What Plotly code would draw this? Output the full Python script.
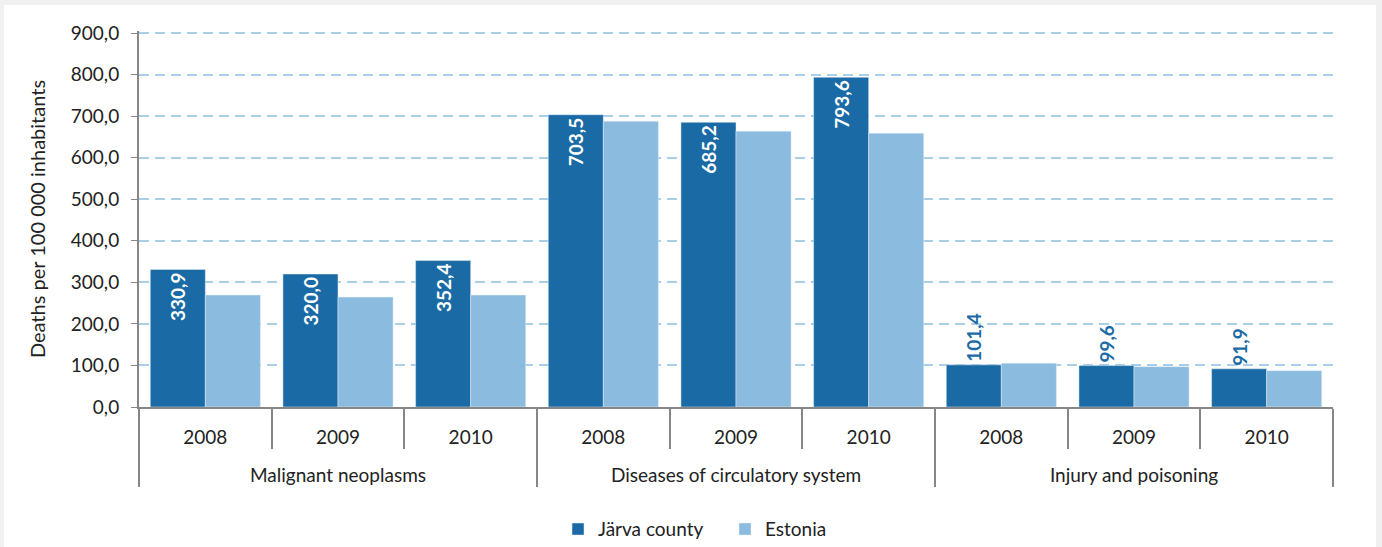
import plotly.graph_objects as go

causes = ["Malignant neoplasms", "Diseases of circulatory system", "Injury and poisoning"]
years = ["2008", "2009", "2010"]

jarva = [330.9, 320.0, 352.4, 703.5, 685.2, 793.6, 101.4, 99.6, 91.9]
estonia = [269.5, 264.5, 269.5, 688.0, 664.0, 659.0, 105.5, 97.0, 87.5]

# two level category axis
lvl1 = [c for c in causes for y in years]
lvl2 = [y + "<br> " for c in causes for y in years]

dark = "#1a6aa6"
light = "#8bbce0"
font = "Lato"

# small bars get their label above the bar
pos = ["inside" if v > 200 else "outside" for v in jarva]
tcol = ["white" if v > 200 else dark for v in jarva]

fig = go.Figure()
fig.add_trace(go.Bar(x=[lvl1, lvl2], y=jarva, name="Järva county", marker_color=dark,
                     text=[f"{v:.1f}".replace(".", ",") for v in jarva],
                     textposition=pos, textangle=-90, insidetextanchor="end",
                     textfont=dict(family=font, size=19, color=tcol, weight="bold"),
                     cliponaxis=False))
fig.add_trace(go.Bar(x=[lvl1, lvl2], y=estonia, name="Estonia", marker_color=light))

W, H = 1382, 547
L, R, T, B = 139, 49, 31, 140
pw, ph = W - L - R, H - T - B
fig.add_shape(type="rect", xref="paper", yref="paper", layer="below",
              x0=(4 - L) / pw, x1=(1376 - L) / pw, y0=-B / ph - 0.01, y1=(H - 5 - B) / ph,
              fillcolor="white", line_width=0)

fig.update_layout(
    width=W, height=H,
    margin=dict(l=L, r=R, t=T, b=B, autoexpand=False),
    paper_bgcolor="#f0f0f0", plot_bgcolor="white",
    barmode="group", bargap=0.17, bargroupgap=0,
    separators=", ",
    font=dict(family=font, size=19, color="#222222"),
    showlegend=True,
    legend=dict(orientation="h", x=(558 - L) / pw, xanchor="left", y=-0.325, yanchor="middle",
                font=dict(size=19), bgcolor="rgba(0,0,0,0)", traceorder="normal",
                entrywidth=122, entrywidthmode="pixels"),
)
fig.update_yaxes(range=[0, 905], dtick=100, tickformat=".1f", automargin=False,
                 showgrid=True, gridcolor="#a9cfe8", griddash="10px,6px", gridwidth=2,
                 showline=True, linecolor="#868686", linewidth=2,
                 ticks="outside", ticklen=6, tickcolor="#868686", ticklabelstandoff=8,
                 zeroline=False,
                 title=dict(text="Deaths per 100 000 inhabitants", font=dict(size=20), standoff=20))
fig.update_xaxes(type="multicategory", automargin=False, showline=True, linecolor="#868686", linewidth=2,
                 ticks="outside", tickson="boundaries", ticklen=40, tickcolor="#868686", tickwidth=2,
                 ticklabelstandoff=12,
                 showdividers=True, dividercolor="#868686", dividerwidth=2)

fig.write_html("out.html", config={"displayModeBar": False},
               post_script="document.body.style.margin='0';")
